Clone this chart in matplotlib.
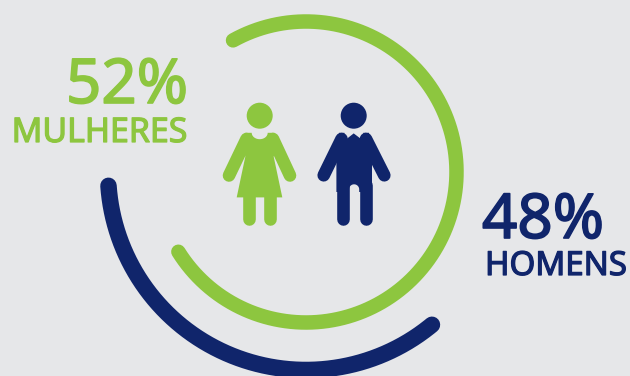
import numpy as np
import matplotlib
matplotlib.use("Agg")
import matplotlib.pyplot as plt
import matplotlib.patheffects as pe
from matplotlib.patches import Circle, Polygon

# Gender split shown in the infographic
groups = ["MULHERES", "HOMENS"]
shares = [52, 48]

BG = "#E6E7E9"
GREEN = "#8DC63F"
NAVY = "#10256B"
CX, CY = 306, 172

fig = plt.figure(figsize=(6.3, 3.76), dpi=100, facecolor=BG)
ax = fig.add_axes([0, 0, 1, 1])
ax.set_xlim(0, 630)
ax.set_ylim(376, 0)
ax.axis("off")

PX = 72 / 100  # one pixel in points


def arc(radius, start, end, color, width):
    t = np.radians(np.linspace(start, end, 400))
    ax.plot(CX + radius * np.cos(t), CY - radius * np.sin(t), color=color,
            lw=width * PX, solid_capstyle="round")


def limb(x0, y0, x1, y1, color, width=12.6):
    ax.plot([x0, x1], [y0, y1], color=color, lw=width * PX, solid_capstyle="round")


def curve(cx, cy, rx, ry, start, end, n=24):
    # Points along an elliptical arc, angles measured on screen
    t = np.radians(np.linspace(start, end, n))
    return list(zip(cx + rx * np.cos(t), cy + ry * np.sin(t)))


def label(x, y, text, color, size, stroke):
    # A thin outline brings the regular face up to a medium weight
    ax.text(x, y, text, color=color, fontsize=size, family="Noto Sans",
            ha="right", va="baseline",
            path_effects=[pe.withStroke(linewidth=stroke, foreground=color)])


arc(150.5, 119, -148, GREEN, 14.5)
arc(198, 184, 309.5, NAVY, 16.5)

# Woman pictogram
ax.add_patch(Circle((259.7, 115.7), 13, color=GREEN, lw=0))
limb(246.5, 139, 229, 175.5, GREEN)
limb(273, 139, 290, 175.5, GREEN)
limb(249.3, 190, 249.3, 219.4, GREEN)
limb(270, 190, 270, 219.4, GREEN)
woman = [(245, 132.8), (251.7, 132.8)] + curve(259.7, 132.8, 8, 6.4, 180, 0) + [
    (267.7, 132.8), (274.5, 132.8), (275, 152), (273.7, 156.7), (282.3, 197.4),
    (236.7, 197.4), (245.3, 156.7), (244.5, 152)]
ax.add_patch(Polygon(woman, closed=True, color=GREEN, lw=0))

# Man pictogram
ax.add_patch(Circle((353.7, 115.7), 13, color=NAVY, lw=0))
limb(341.5, 139, 323.7, 175.3, NAVY)
limb(366, 139, 384.3, 175.3, NAVY)
limb(342.7, 185, 342.7, 219.4, NAVY)
limb(365.7, 185, 365.7, 219.4, NAVY)
man = [(339, 132.8), (344.4, 132.8), (344.4, 140.7), (353.7, 133.4), (363.3, 140.7),
       (363.3, 132.8), (369, 132.8), (372, 160), (372, 192), (359.2, 192)] + curve(
    354.1, 189.4, 5.1, 5.1, 0, -180) + [(349, 192), (336.4, 192), (336.4, 160)]
ax.add_patch(Polygon(man, closed=True, color=NAVY, lw=0))

label(188, 103, f"{shares[0]}%", GREEN, 44.5, 1.2)
label(187, 142, groups[0], GREEN, 24.4, 0.9)
label(604, 238, f"{shares[1]}%", NAVY, 44.5, 1.2)
label(627, 275, groups[1], NAVY, 23.8, 0.9)

fig.savefig("out.png", dpi=100, facecolor=BG)
